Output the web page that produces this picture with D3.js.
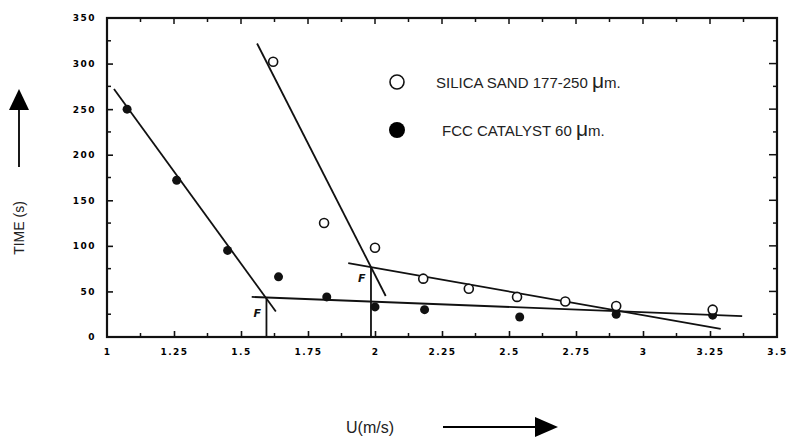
<!DOCTYPE html>
<html>
<head>
<meta charset="utf-8">
<script src="https://cdn.jsdelivr.net/npm/d3@7"></script>
<style>
  body { margin: 0; background: #fff; }
  svg { display: block; }
  .tick text { font-family: "DejaVu Sans", sans-serif; font-weight: bold; font-size: 9px; letter-spacing: 1.5px; fill: #000; }
</style>
</head>
<body>
<script>
// ---- data ----
var xTicks = [1, 1.25, 1.5, 1.75, 2, 2.25, 2.5, 2.75, 3, 3.25, 3.5];
var xTickLabels = ["1", "1.25", "1.5", "1.75", "2", "2.25", "2.5", "2.75", "3", "3.25", "3.5"];
var yTicks = [0, 50, 100, 150, 200, 250, 300, 350];

// silica sand 177-250 um (open circles)
var silicaU = [1.62, 1.81, 2.0, 2.18, 2.35, 2.53, 2.71, 2.90, 3.26];
var silicaT = [302, 125, 98, 64, 53, 44, 39, 34, 30];

// FCC catalyst 60 um (filled circles)
var fccU = [1.075, 1.26, 1.45, 1.64, 1.82, 2.0, 2.185, 2.54, 2.90, 3.26];
var fccT = [250, 172, 95, 66, 44, 33, 30, 22, 25, 24];

// hand-drawn fit lines [u, t] pairs
var fccSteep = [[1.026, 272], [1.63, 28]];
var fccFlat = [[1.54, 44], [3.37, 23]];
var silicaSteep = [[1.56, 322], [2.04, 45]];
var silicaFlat = [[1.90, 81], [3.29, 9]];

// minimum fluidization points F
var fPoints = [[1.595, 42], [1.985, 76]];

var width = 787, height = 439;
var svg = d3.select("body").append("svg")
  .attr("width", width)
  .attr("height", height);

var x = d3.scaleLinear().domain([1, 3.5]).range([107, 777]);
var y = d3.scaleLinear().domain([0, 350]).range([337, 18]);

var minorX = d3.range(1, 3.5001, 0.125);
var minorY = d3.range(0, 350.001, 25);

// bottom axis, ticks pointing inward
var xAxis = d3.axisBottom(x)
  .tickValues(xTicks)
  .tickSizeInner(-6).tickSizeOuter(0)
  .tickPadding(12)
  .tickFormat(function(d, i){ return xTickLabels[i]; });
var gx = svg.append("g").attr("transform", "translate(0," + y(0) + ")").call(xAxis);

var yAxis = d3.axisLeft(y)
  .tickValues(yTicks)
  .tickSizeInner(-6).tickSizeOuter(0)
  .tickPadding(11);
var gy = svg.append("g").attr("transform", "translate(" + x(1) + ",0)").call(yAxis);

[gx, gy].forEach(function(g){
  g.select(".domain").remove();
  g.selectAll(".tick line").attr("stroke", "#111").attr("stroke-width", 1.6);
});
gy.selectAll(".tick").filter(function(d){ return d === 0 || d === 350; }).select("line").remove();
gx.selectAll(".tick").filter(function(d){ return d === 1 || d === 3.5; }).select("line").remove();

// minor ticks on all four sides
var ticks = svg.append("g").attr("stroke", "#111").attr("stroke-width", 1.5);
minorX.forEach(function(v, i){
  if (v <= 1 || v >= 3.5) return;
  var len = (i % 2 === 0) ? 6 : 4;
  if (i % 2 === 1) ticks.append("line").attr("x1", x(v)).attr("x2", x(v)).attr("y1", y(0)).attr("y2", y(0) - len);
  ticks.append("line").attr("x1", x(v)).attr("x2", x(v)).attr("y1", y(350)).attr("y2", y(350) + len);
});
minorY.forEach(function(v, i){
  if (v <= 0 || v >= 350) return;
  var len = (i % 2 === 0) ? 8 : 4;
  if (i % 2 === 1) ticks.append("line").attr("x1", x(1)).attr("x2", x(1) + len).attr("y1", y(v)).attr("y2", y(v));
  ticks.append("line").attr("x1", x(3.5)).attr("x2", x(3.5) - len).attr("y1", y(v)).attr("y2", y(v));
});

// frame
svg.append("rect")
  .attr("x", x(1)).attr("y", y(350))
  .attr("width", x(3.5) - x(1)).attr("height", y(0) - y(350))
  .attr("fill", "none").attr("stroke", "#111").attr("stroke-width", 2.2);

// fit lines
var line = d3.line().x(function(d){ return x(d[0]); }).y(function(d){ return y(d[1]); });
svg.append("g").selectAll("path")
  .data([fccSteep, fccFlat, silicaSteep, silicaFlat])
  .enter().append("path")
  .attr("d", line)
  .attr("fill", "none").attr("stroke", "#111").attr("stroke-width", 1.8);

// vertical drops at F
svg.append("g").selectAll("line")
  .data(fPoints)
  .enter().append("line")
  .attr("x1", function(d){ return x(d[0]); }).attr("x2", function(d){ return x(d[0]); })
  .attr("y1", function(d){ return y(d[1]); }).attr("y2", y(0))
  .attr("stroke", "#111").attr("stroke-width", 1.8);

svg.append("g").selectAll("text")
  .data(fPoints)
  .enter().append("text")
  .attr("x", function(d){ return x(d[0]) - 13; })
  .attr("y", function(d, i){ return i === 0 ? y(0) - 20 : y(d[1]) + 14; })
  .attr("font-family", "DejaVu Sans, sans-serif").attr("font-weight", "bold")
  .attr("font-style", "italic").attr("font-size", 11).attr("fill", "#111")
  .text("F");

// markers
svg.append("g").selectAll("circle")
  .data(fccU.map(function(u, i){ return [u, fccT[i]]; }))
  .enter().append("circle")
  .attr("cx", function(d){ return x(d[0]); }).attr("cy", function(d){ return y(d[1]); })
  .attr("r", 4.5).attr("fill", "#111");

svg.append("g").selectAll("circle")
  .data(silicaU.map(function(u, i){ return [u, silicaT[i]]; }))
  .enter().append("circle")
  .attr("cx", function(d){ return x(d[0]); }).attr("cy", function(d){ return y(d[1]); })
  .attr("r", 4.5).attr("fill", "#fff").attr("stroke", "#111").attr("stroke-width", 1.6);

// legend
var legend = svg.append("g").attr("font-family", "Liberation Sans, Arial, sans-serif").attr("fill", "#222");
legend.append("circle").attr("cx", 397).attr("cy", 82).attr("r", 7)
  .attr("fill", "#fff").attr("stroke", "#111").attr("stroke-width", 1.6);
legend.append("circle").attr("cx", 397).attr("cy", 130).attr("r", 8).attr("fill", "#000");
var t1 = legend.append("text").attr("x", 436).attr("y", 88).attr("font-size", 15);
t1.append("tspan").text("SILICA SAND 177-250 ");
t1.append("tspan").attr("font-size", 21).text("\u03bc");
t1.append("tspan").text("m.");
var t2 = legend.append("text").attr("x", 442).attr("y", 136).attr("font-size", 15);
t2.append("tspan").text("FCC CATALYST 60 ");
t2.append("tspan").attr("font-size", 21).text("\u03bc");
t2.append("tspan").text("m.");

// axis titles with arrows
var titles = svg.append("g").attr("font-family", "Liberation Sans, Arial, sans-serif").attr("fill", "#222");
titles.append("text")
  .attr("transform", "translate(24,228) rotate(-90)")
  .attr("text-anchor", "middle").attr("font-size", 14)
  .text("TIME (s)");
titles.append("line").attr("x1", 19).attr("x2", 19).attr("y1", 167).attr("y2", 105)
  .attr("stroke", "#000").attr("stroke-width", 1.8);
titles.append("path").attr("d", "M9,110 L29,110 L19,89 Z").attr("fill", "#000");

titles.append("text")
  .attr("x", 346).attr("y", 433).attr("font-size", 16)
  .text("U(m/s)");
titles.append("line").attr("x1", 443).attr("x2", 540).attr("y1", 427).attr("y2", 427)
  .attr("stroke", "#000").attr("stroke-width", 1.8);
titles.append("path").attr("d", "M535,417 L535,437 L558,427 Z").attr("fill", "#000");
</script>
</body>
</html>
